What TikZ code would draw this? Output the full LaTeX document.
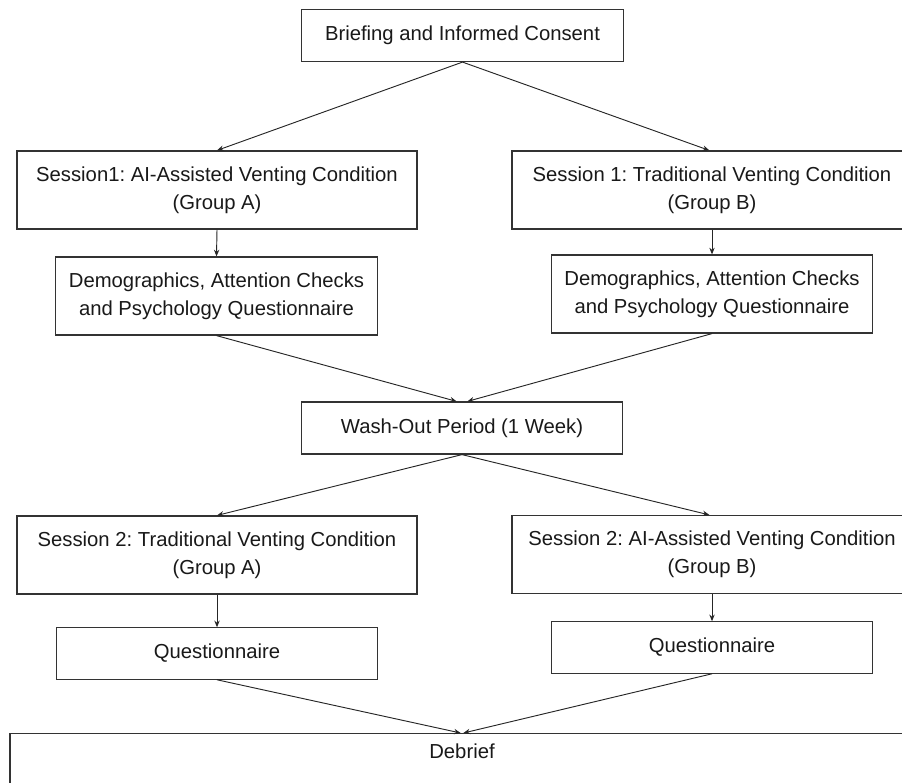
\documentclass[tikz,border=0pt]{standalone}
\usepackage{fontspec}
\setmainfont{Liberation Sans}
\usepackage{tikz}
\usetikzlibrary{arrows.meta, positioning}
\frenchspacing

\begin{document}
\begin{tikzpicture}[
        x=0.75pt, y=-0.75pt,
        box/.style={rectangle, draw=black!80, line width=0.9pt, fill=white, align=center, inner sep=0pt, text=black!90, font=\fontsize{15.2}{21}\selectfont},
        wide/.style={box, minimum width=300pt, minimum height=58.5pt},
        narrow/.style={box, minimum width=241pt, minimum height=58.5pt},
        flow/.style={-{Stealth[length=5pt, width=4pt]}, draw=black!85, line width=0.7pt}
    ]
        \useasboundingbox (0,0) rectangle (902,782);
        \clip (0,0) rectangle (902,782);

        \node[narrow, minimum height=39pt] (brief) at (462.5,35.5) {Briefing and Informed Consent};

        % Session 1
        \node[wide] (s1a) at (217,190) {Session1: AI-Assisted Venting Condition\\(Group A)};
        \node[wide] (s1b) at (712,190) {Session 1: Traditional Venting Condition\\(Group B)};
        \node[narrow] (dema) at (216.5,296) {Demographics, Attention Checks\\and Psychology Questionnaire};
        \node[narrow] (demb) at (712,294) {Demographics, Attention Checks\\and Psychology Questionnaire};

        \node[narrow, minimum height=39pt] (wash) at (462,428) {Wash-Out Period (1 Week)};

        % Session 2
        \node[wide] (s2a) at (217,555) {Session 2: Traditional Venting Condition\\(Group A)};
        \node[wide] (s2b) at (712,554.5) {Session 2: AI-Assisted Venting Condition\\(Group B)};
        \node[narrow, minimum height=38.5pt] (qa) at (217,653.5) {Questionnaire};
        \node[narrow, minimum height=38.5pt] (qb) at (712,647.5) {Questionnaire};

        \node[box, anchor=north, minimum width=678pt, text height=19pt, text depth=60pt] (deb) at (462,733) {Debrief};

        % Flow
        \draw[flow] (brief.south) -- (s1a.north);
        \draw[flow] (brief.south) -- ([xshift=-2pt]s1b.north);
        \draw[flow] (s1a.south) -- (dema.north);
        \draw[flow] (s1b.south) -- (demb.north);
        \draw[flow] (dema.south) -- ([xshift=-4pt]wash.north);
        \draw[flow] (demb.south) -- ([xshift=4pt]wash.north);
        \draw[flow] (wash.south) -- (s2a.north);
        \draw[flow] (wash.south) -- ([xshift=-2pt]s2b.north);
        \draw[flow] (s2a.south) -- (qa.north);
        \draw[flow] (s2b.south) -- (qb.north);
        \draw[flow] (qa.south) -- ([xshift=-1pt]deb.north);
        \draw[flow] (qb.south) -- ([xshift=1pt]deb.north);
    \end{tikzpicture}
\end{document}
